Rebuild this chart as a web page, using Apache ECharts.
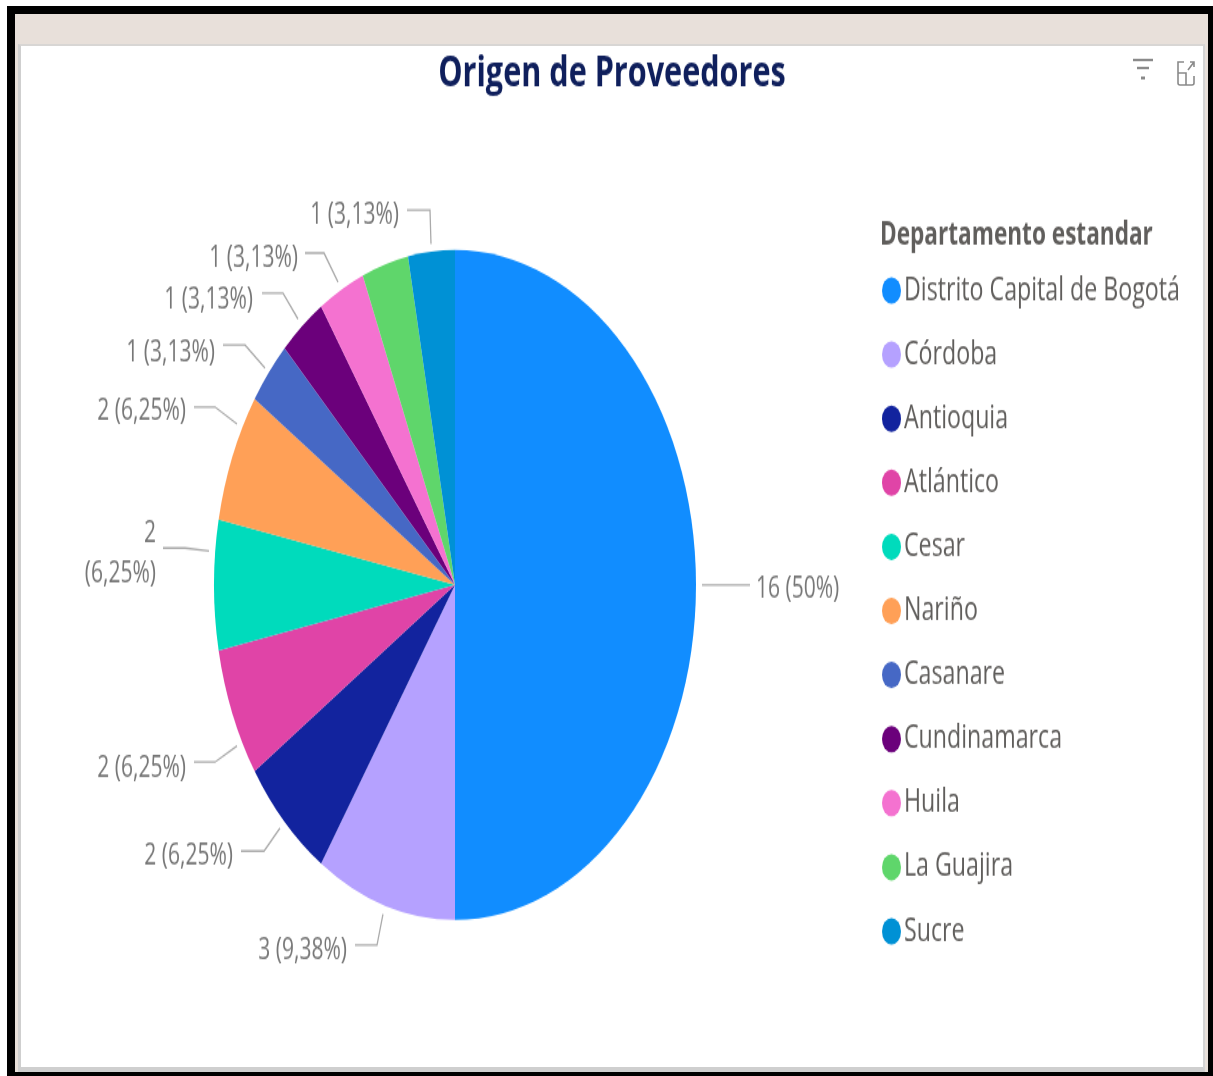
<!DOCTYPE html>
<html><head><meta charset="utf-8">
<script src="https://cdn.jsdelivr.net/npm/echarts@6/dist/echarts.min.js"></script>
<style>
html,body{margin:0;padding:0;background:#fff;overflow:hidden}
#stage{position:relative;width:1213px;height:1076px;background:#fff;overflow:hidden}
#black{position:absolute;left:7px;top:6px;width:1206px;height:1070px;background:#000}
#beige{position:absolute;left:15px;top:14px;width:1193px;height:1058px;background:#e8e0da}
#panel{position:absolute;left:18px;top:44px;width:1187px;height:1028px;background:#fff;box-sizing:border-box;border-top:2px solid #d8d6d4;border-left:3px solid #cfcfcf;border-bottom:5px solid #cfcfcf;border-right:2px solid #d4d4d4}
#chart{position:absolute;left:0;top:0;width:1213px;height:774px;transform:scaleY(1.39);transform-origin:0 0}
svg{position:absolute;left:1125px;top:50px}
</style></head><body>
<div id="stage"><div id="black"></div><div id="beige"></div><div id="panel"></div>
<div id="chart"></div>
<svg width="80" height="45" viewBox="0 0 80 45" fill="none" stroke="#8a8a8a">
<path d="M8 10H28" stroke-width="2.5"/><path d="M12 18H24" stroke-width="2.5"/><path d="M16 28H20" stroke-width="3"/>
<path d="M59 12H53V33Q53 35 55 35H67Q69 35 69 33V26M53 23H61V35M63 20L69 12M65 12H69V17" stroke-width="1.6"/>
</svg></div>
<script>
const categories=['Distrito Capital de Bogotá','Córdoba','Antioquia','Atlántico','Cesar','Nariño','Casanare','Cundinamarca','Huila','La Guajira','Sucre'];
const values=[16,3,2,2,2,2,1,1,1,1,1];
const percentLabels=['50%','9,38%','6,25%','6,25%','6,25%','6,25%','3,13%','3,13%','3,13%','3,13%','3,13%'];
const colors=['#118DFF','#B5A1FF','#12239E','#E044A7','#00DBBC','#FFA057','#4668C5','#6B007B','#F472D0','#5FD66B','#0091D5'];
const hiddenLabels=['La Guajira'];
const wrappedLabels=['Cesar'];
// leader start x,y, elbow x,y, leader end x, label edge x, label centre y: picture pixels, by category
const leaderLayout={
 'Distrito Capital de Bogotá':[702,585,725,585,750,756,590],
 'Córdoba':[383,914,377,945,355,347,951],
 'Antioquia':[280,828,264,851,241,233,856],
 'Atlántico':[237,746,215,762,194,186,768],
 'Cesar':[209,551,185,548,163,156,554],
 'Nariño':[237,424,215,407,194,186,412],
 'Casanare':[265,368,245,345,223,215,353],
 'Cundinamarca':[298,319,283,293,262,253,300],
 'Huila':[338,282,324,253,305,298,259],
 'Sucre':[431,244,430,210,407,399,216]
};
const chart=echarts.init(document.getElementById('chart'));
const font='"Open Sans",sans-serif';
const S=1.39;
const CX=455,CY=585/S,R=241;
chart.setOption({
  animation:false,
  title:[
    {text:'Origen de Proveedores',left:612,top:53/S,padding:0,textAlign:'center',textStyle:{fontFamily:font,fontWeight:'bold',fontSize:30.6,color:'#0F1F5C'}},
    {text:'Departamento estandar',left:880,top:220/S,padding:0,textStyle:{fontFamily:font,fontWeight:'bold',fontSize:22.6,color:'#605E5C'}}
  ],
  legend:{orient:'vertical',left:882,top:274.5/S,padding:0,icon:'circle',itemWidth:19,itemHeight:19,itemGap:23.1,
    data:categories,textStyle:{fontFamily:font,fontSize:23.2,color:'#605E5C',padding:[0,0,0,-2]},selectedMode:false},
  series:[{type:'pie',center:[CX,CY],radius:[0,R],startAngle:90,clockwise:true,color:colors,
    itemStyle:{borderWidth:0},minAngle:0,avoidLabelOverlap:false,
    data:categories.map((n,i)=>({name:n,value:values[i],
      label:{show:!hiddenLabels.includes(n),
        formatter:values[i]+(wrappedLabels.includes(n)?'\n':' ')+'('+percentLabels[i]+')'},
      labelLine:{show:!hiddenLabels.includes(n)}})),
    label:{show:true,position:'outside',fontFamily:font,fontSize:21,color:'#777777',lineHeight:29,distanceToLabelLine:6},
    labelLine:{show:true,length:22,length2:24,smooth:false,lineStyle:{color:'#AAAAAA',width:1.3}},
    labelLayout:function(p){
      const L=leaderLayout[categories[p.dataIndex]];
      if(!L||!p.labelLinePoints) return {};
      return {x:L[5],y:L[6]/S,align:L[5]>CX?'left':'right',verticalAlign:'middle',
        labelLinePoints:[[L[0],L[1]/S],[L[2],L[3]/S],[L[4],L[3]/S]]};
    },
    emphasis:{disabled:true}
  }]
});
</script></body></html>
